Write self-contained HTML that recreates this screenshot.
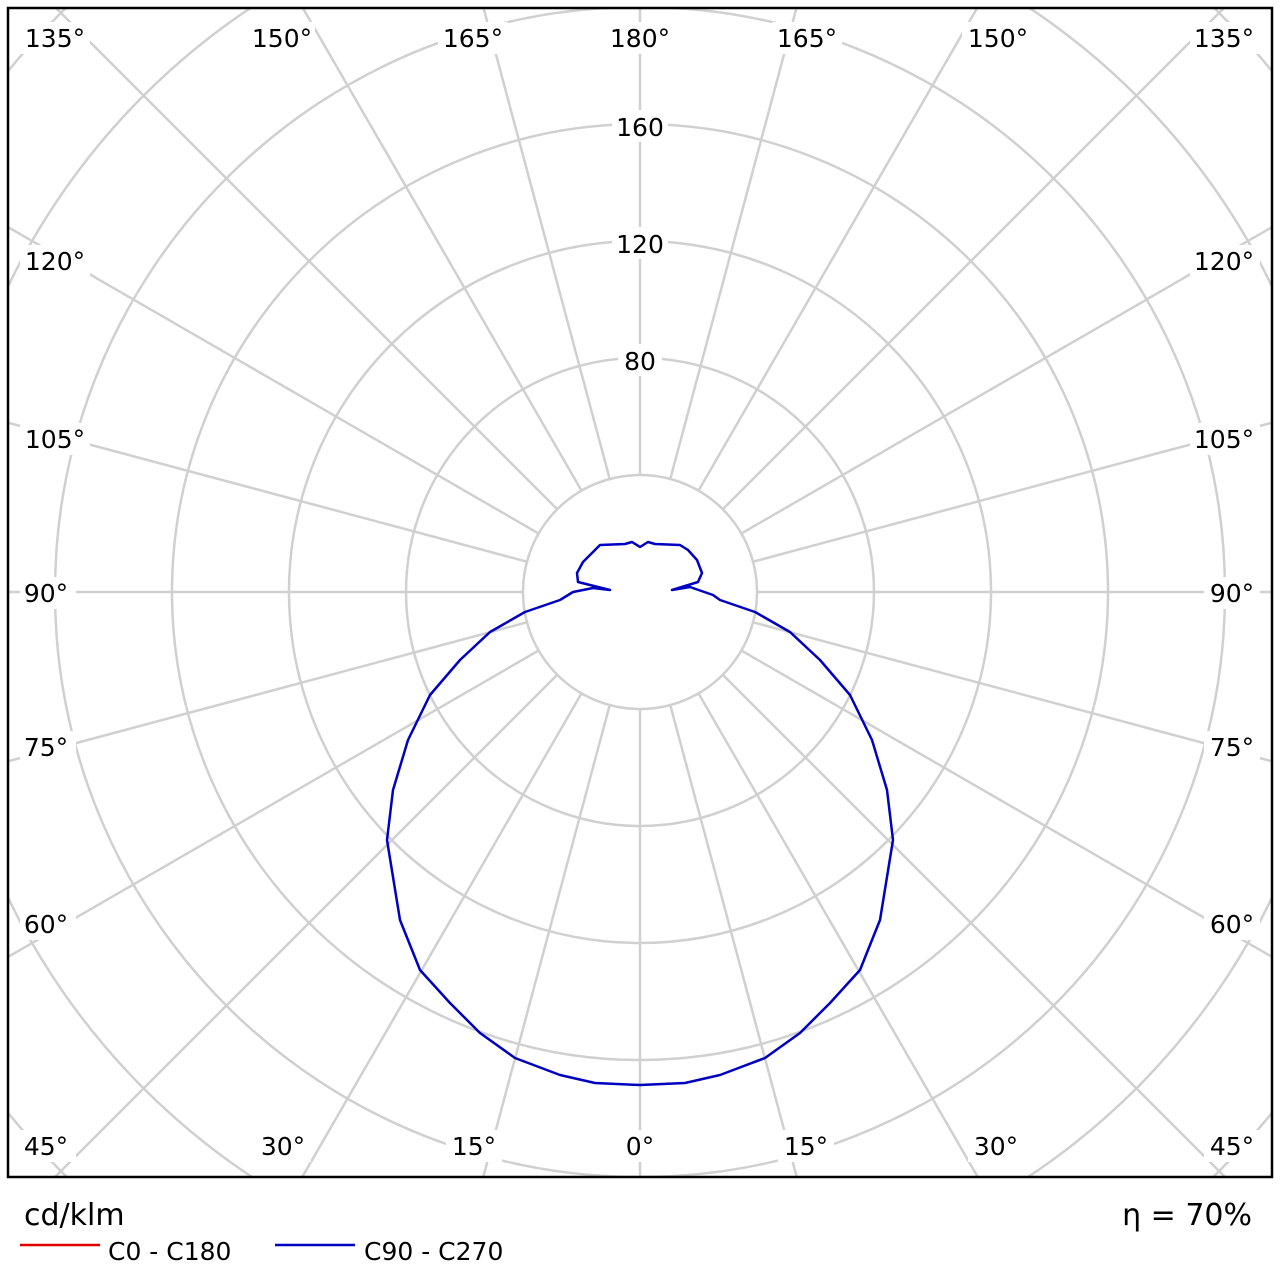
<!DOCTYPE html>
<html><head><meta charset="utf-8"><style>
html,body{margin:0;padding:0;background:#fff;width:1280px;height:1280px;overflow:hidden;}
svg{display:block;}
svg text{font-family:"DejaVu Sans","Liberation Sans",sans-serif;}
</style></head><body>
<svg width="1280" height="1280" viewBox="0 0 1280 1280" xmlns="http://www.w3.org/2000/svg">
<defs><clipPath id="c"><rect x="8" y="8" width="1264" height="1169"/></clipPath></defs>
<g clip-path="url(#c)" stroke="#d0d0d0" stroke-width="2.5" fill="none">
<circle cx="640" cy="592" r="117"/>
<circle cx="640" cy="592" r="234"/>
<circle cx="640" cy="592" r="351"/>
<circle cx="640" cy="592" r="468"/>
<circle cx="640" cy="592" r="585"/>
<circle cx="640" cy="592" r="702"/>
<circle cx="640" cy="592" r="819"/>
<g>
<line x1="640" y1="709" x2="640" y2="1500" transform="rotate(0 640 592)"/>
<line x1="640" y1="709" x2="640" y2="1500" transform="rotate(15 640 592)"/>
<line x1="640" y1="709" x2="640" y2="1500" transform="rotate(30 640 592)"/>
<line x1="640" y1="709" x2="640" y2="1500" transform="rotate(45 640 592)"/>
<line x1="640" y1="709" x2="640" y2="1500" transform="rotate(60 640 592)"/>
<line x1="640" y1="709" x2="640" y2="1500" transform="rotate(75 640 592)"/>
<line x1="640" y1="709" x2="640" y2="1500" transform="rotate(90 640 592)"/>
<line x1="640" y1="709" x2="640" y2="1500" transform="rotate(105 640 592)"/>
<line x1="640" y1="709" x2="640" y2="1500" transform="rotate(120 640 592)"/>
<line x1="640" y1="709" x2="640" y2="1500" transform="rotate(135 640 592)"/>
<line x1="640" y1="709" x2="640" y2="1500" transform="rotate(150 640 592)"/>
<line x1="640" y1="709" x2="640" y2="1500" transform="rotate(165 640 592)"/>
<line x1="640" y1="709" x2="640" y2="1500" transform="rotate(180 640 592)"/>
<line x1="640" y1="709" x2="640" y2="1500" transform="rotate(195 640 592)"/>
<line x1="640" y1="709" x2="640" y2="1500" transform="rotate(210 640 592)"/>
<line x1="640" y1="709" x2="640" y2="1500" transform="rotate(225 640 592)"/>
<line x1="640" y1="709" x2="640" y2="1500" transform="rotate(240 640 592)"/>
<line x1="640" y1="709" x2="640" y2="1500" transform="rotate(255 640 592)"/>
<line x1="640" y1="709" x2="640" y2="1500" transform="rotate(270 640 592)"/>
<line x1="640" y1="709" x2="640" y2="1500" transform="rotate(285 640 592)"/>
<line x1="640" y1="709" x2="640" y2="1500" transform="rotate(300 640 592)"/>
<line x1="640" y1="709" x2="640" y2="1500" transform="rotate(315 640 592)"/>
<line x1="640" y1="709" x2="640" y2="1500" transform="rotate(330 640 592)"/>
<line x1="640" y1="709" x2="640" y2="1500" transform="rotate(345 640 592)"/>
</g>
</g>
<g font-size="25" fill="#000">
<rect x="612" y="110" width="56" height="32" fill="#fff"/><text x="640" y="136" text-anchor="middle">160</text>
<rect x="612" y="227" width="56" height="32" fill="#fff"/><text x="640" y="253" text-anchor="middle">120</text>
<rect x="618" y="344" width="44" height="32" fill="#fff"/><text x="640" y="370" text-anchor="middle">80</text>
<rect x="20" y="22" width="70" height="32" fill="#fff"/><text x="55" y="47" text-anchor="middle">135°</text>
<rect x="245" y="22" width="70" height="32" fill="#fff"/><text x="282" y="47" text-anchor="middle">150°</text>
<rect x="438" y="22" width="70" height="32" fill="#fff"/><text x="473" y="47" text-anchor="middle">165°</text>
<rect x="605" y="22" width="70" height="32" fill="#fff"/><text x="640" y="47" text-anchor="middle">180°</text>
<rect x="772" y="22" width="70" height="32" fill="#fff"/><text x="807" y="47" text-anchor="middle">165°</text>
<rect x="962" y="22" width="70" height="32" fill="#fff"/><text x="998" y="47" text-anchor="middle">150°</text>
<rect x="1190" y="22" width="70" height="32" fill="#fff"/><text x="1224" y="47" text-anchor="middle">135°</text>
<rect x="20" y="245" width="70" height="32" fill="#fff"/><text x="55" y="270" text-anchor="middle">120°</text>
<rect x="1190" y="245" width="70" height="32" fill="#fff"/><text x="1224" y="270" text-anchor="middle">120°</text>
<rect x="20" y="423" width="70" height="32" fill="#fff"/><text x="55" y="448" text-anchor="middle">105°</text>
<rect x="1190" y="423" width="70" height="32" fill="#fff"/><text x="1224" y="448" text-anchor="middle">105°</text>
<rect x="20" y="577" width="56" height="32" fill="#fff"/><text x="46" y="602" text-anchor="middle">90°</text>
<rect x="1204" y="577" width="56" height="32" fill="#fff"/><text x="1232" y="602" text-anchor="middle">90°</text>
<rect x="20" y="731" width="56" height="32" fill="#fff"/><text x="46" y="756" text-anchor="middle">75°</text>
<rect x="1204" y="731" width="56" height="32" fill="#fff"/><text x="1232" y="756" text-anchor="middle">75°</text>
<rect x="20" y="908" width="56" height="32" fill="#fff"/><text x="46" y="933" text-anchor="middle">60°</text>
<rect x="1204" y="908" width="56" height="32" fill="#fff"/><text x="1232" y="933" text-anchor="middle">60°</text>
<rect x="20" y="1130" width="56" height="32" fill="#fff"/><text x="46" y="1155" text-anchor="middle">45°</text>
<rect x="1204" y="1130" width="56" height="32" fill="#fff"/><text x="1232" y="1155" text-anchor="middle">45°</text>
<rect x="255" y="1130" width="56" height="32" fill="#fff"/><text x="283" y="1155" text-anchor="middle">30°</text>
<rect x="968" y="1130" width="56" height="32" fill="#fff"/><text x="996" y="1155" text-anchor="middle">30°</text>
<rect x="446" y="1130" width="56" height="32" fill="#fff"/><text x="474" y="1155" text-anchor="middle">15°</text>
<rect x="778" y="1130" width="56" height="32" fill="#fff"/><text x="806" y="1155" text-anchor="middle">15°</text>
<rect x="618" y="1130" width="44" height="32" fill="#fff"/><text x="640" y="1155" text-anchor="middle">0°</text>
</g>
<polyline fill="none" stroke="#0000c0" stroke-width="2.5" stroke-linejoin="round" points="
560,600 573,592 593,588 610,590 578,582 577,573 583,562 600,545 625,544 632,542 640,547 648,542 655,544 680,545 688,550 697,560 702,573 698,582 672,590 690,587 713,595 720,600
755,612 790,632 820,660 850,695 872,740 887,790 893,840 880,920 860,970 830,1003 800,1033 765,1058 720,1075 685,1083 640,1085
595,1083 560,1075 515,1058 480,1033 450,1003 420,970 400,920 387,840 393,790 408,740 430,695 460,660 490,632 525,612 560,600"/>
<rect x="8" y="8" width="1264" height="1169" fill="none" stroke="#000" stroke-width="2.5"/>
<g font-size="30" fill="#000">
<text x="24" y="1225">cd/klm</text>
<text x="1252" y="1225" text-anchor="end">η = 70%</text>
</g>
<line x1="20" y1="1245" x2="100" y2="1245" stroke="#e00000" stroke-width="2.5"/>
<text x="108" y="1260" font-size="25">C0 - C180</text>
<line x1="275" y1="1245" x2="355" y2="1245" stroke="#0000c0" stroke-width="2.5"/>
<text x="364" y="1260" font-size="25">C90 - C270</text>
</svg>
</body></html>
